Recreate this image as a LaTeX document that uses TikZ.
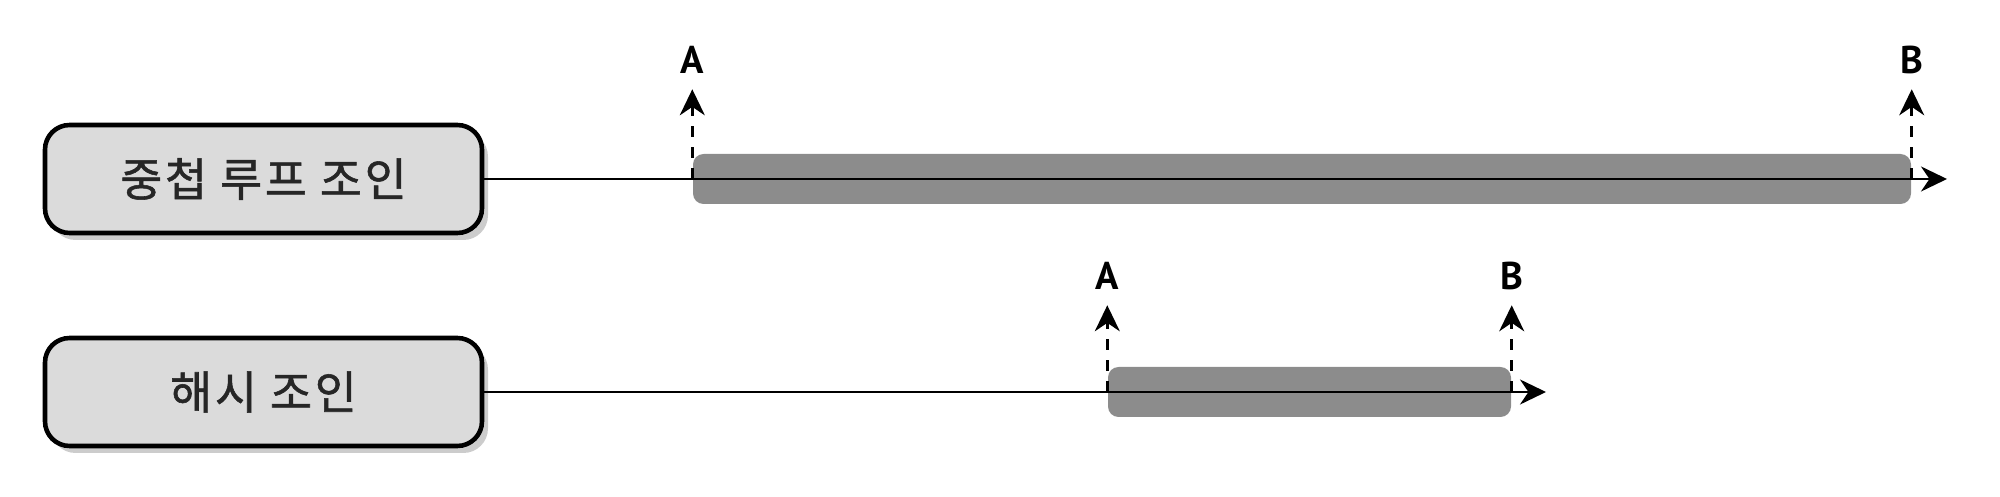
\documentclass[tikz,border=0pt]{standalone}
\usepackage{fontspec}
\newfontfamily\krfont[LetterSpace=6,FakeBold=1.2]{Noto Sans CJK KR}
\newfontfamily\lblfont{PT Sans}
\usetikzlibrary{positioning,arrows.meta,shadows}

\begin{document}
\begin{tikzpicture}[
    >={Stealth[length=0.26cm,width=0.25cm]},
    joinbox/.style={
        draw=black,
        fill=gray!28,
        rounded corners=7pt,
        line width=1.3pt,
        minimum width=4.37cm,
        minimum height=1.08cm,
        font=\krfont\fontsize{13}{15}\selectfont,
        text=black!85,
        drop shadow={shadow xshift=0.06cm, shadow yshift=-0.07cm, opacity=0.4}
    },
    bar/.style={
        fill=black!45,
        rounded corners=3pt,
        inner sep=0pt,
        minimum height=0.5cm
    },
    marker/.style={
        font=\lblfont\bfseries\fontsize{11}{13}\selectfont,
        inner sep=0pt
    },
    timeline/.style={
        ->,
        line width=0.8pt
    },
    pointer/.style={
        ->,
        dashed,
        line width=0.8pt,
        shorten >=0.15cm
    }
]

% Frame
\useasboundingbox (0,0) rectangle (20,-4.97);

% Join methods
\node[joinbox] (nested) at (2.635,-1.79) {중첩 루프 조인};
\node[joinbox] (hash) at (2.635,-3.92) {해시 조인};

% Bars
\node[bar, minimum width=12.18cm] (nested_bar) at (13.02,-1.79) {};
\node[bar, minimum width=4.03cm] (hash_bar) at (13.095,-3.92) {};

% Line ends
\coordinate (nested_end) at (19.47,-1.79);
\coordinate (hash_end) at (15.46,-3.92);

% Markers
\node[marker, above=0.79cm of nested_bar.north west] (nested_a) {A};
\node[marker, above=0.79cm of nested_bar.north east] (nested_b) {B};
\node[marker, above=0.76cm of hash_bar.north west] (hash_a) {A};
\node[marker, above=0.76cm of hash_bar.north east] (hash_b) {B};

% Connectors
\draw[timeline] (nested) -- (nested_end);
\draw[timeline] (hash) -- (hash_end);

\draw[pointer] (nested_bar.west) -- (nested_a.south);
\draw[pointer] (nested_bar.east) -- (nested_b.south);
\draw[pointer] (hash_bar.west) -- (hash_a.south);
\draw[pointer] (hash_bar.east) -- (hash_b.south);

\end{tikzpicture}
\end{document}
